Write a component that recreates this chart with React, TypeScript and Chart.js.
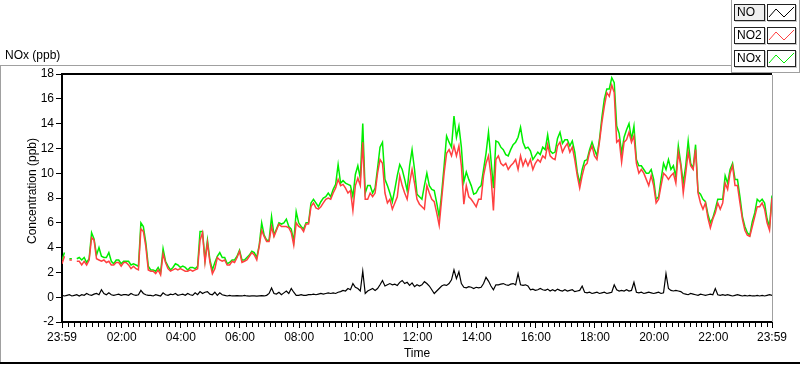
import React, { useEffect, useRef } from "react";
import { Chart, registerables } from "chart.js";
Chart.register(...registerables);

// ---- data (5-minute samples, minutes after 23:59) ----
const STEP_MIN = 5;

const NO = [
  0.15, 0.1, 0.15, 0.2, 0.1, 0.15, 0.2, 0.1, 0.2, 0.15, 0.3, 0.2,
  0.15, 0.25, 0.3, 0.2, 0.6, 0.3, 0.2, 0.35, 0.2, 0.15, 0.2, 0.25,
  0.15, 0.2, 0.2, 0.15, 0.3, 0.2, 0.15, 0.2, 0.55, 0.3, 0.2, 0.15,
  0.15, 0.1, 0.2, 0.15, 0.1, 0.35, 0.2, 0.15, 0.25, 0.2, 0.3, 0.15,
  0.2, 0.25, 0.15, 0.3, 0.2, 0.15, 0.35, 0.2, 0.45, 0.3, 0.4, 0.45,
  0.25, 0.2, 0.4, 0.15, 0.35, 0.2, 0.15, 0.1, 0.15, 0.1, 0.1, 0.12,
  0.1, 0.1, 0.15, 0.1, 0.08, 0.1, 0.1, 0.08, 0.1, 0.12, 0.1, 0.15,
  0.3, 0.75, 0.3, 0.25, 0.4, 0.2, 0.35, 0.5, 0.3, 0.7, 0.4, 0.15,
  0.15, 0.2, 0.15, 0.15, 0.2, 0.2, 0.25, 0.2, 0.25, 0.3, 0.25, 0.3,
  0.35, 0.3, 0.35, 0.3, 0.4, 0.45, 0.55, 0.5, 0.7, 0.6, 1.1, 0.8,
  0.7, 0.5, 2.1, 0.3, 0.5, 0.6, 0.7, 0.55, 0.7, 1.0, 1.35, 0.9,
  1.0, 1.1, 1.0, 1.05, 0.95, 1.2, 1.35, 1.1, 1.2, 0.95, 1.15, 0.85,
  1.0, 0.9, 1.0, 1.25, 1.1, 0.9, 0.6, 0.3, 0.5, 0.7, 0.9, 1.0,
  0.95, 1.1, 1.4, 2.2, 1.5, 2.05, 1.1, 0.8, 0.75, 0.85, 0.8, 0.7,
  0.8, 0.75, 0.8, 1.1, 1.6, 1.3, 0.9, 0.6, 1.0, 1.0, 1.05, 1.1,
  1.0, 0.95, 1.05, 1.1, 1.0, 1.9, 1.0, 0.95, 1.0, 0.9, 0.6, 0.65,
  0.55, 0.6, 0.7, 0.6, 0.55, 0.65, 0.5, 0.6, 0.5, 0.65, 0.55, 0.5,
  0.6, 0.5, 0.55, 0.6, 0.45, 0.5, 0.55, 0.9, 0.4, 0.35, 0.4, 0.3,
  0.35, 0.4, 0.3, 0.35, 0.4, 0.3, 0.35, 0.4, 1.0, 0.6, 0.5, 0.55,
  0.5, 0.6, 0.5, 0.55, 1.2, 0.4, 0.35, 0.4, 0.3, 0.35, 0.4, 0.35,
  0.3, 0.35, 0.4, 0.3, 0.35, 1.9, 0.7, 0.55, 0.5, 0.55, 0.5, 0.45,
  0.3, 0.25, 0.2, 0.3, 0.25, 0.2, 0.15, 0.25, 0.2, 0.15, 0.2, 0.25,
  0.2, 0.7, 0.2, 0.15, 0.2, 0.15, 0.2, 0.15, 0.1, 0.15, 0.2, 0.15,
  0.1, 0.15, 0.1, 0.15, 0.1, 0.1, 0.15, 0.1, 0.15, 0.1, 0.15, 0.2,
  0.15,
];

const NO2 = [
  2.7, 3.3, null, 3.0, 3.0, null, 2.9, 2.9, 2.6, 2.9, 2.6, 3.0,
  4.8, 4.6, 3.1, 3.0, 2.9, 3.0, 2.8, 2.9, 2.6, 2.6, 2.8, 2.8,
  2.5, 2.8, 2.8, 2.6, 2.3, 2.5, 2.3, 2.2, 5.5, 5.3, 4.1, 2.2,
  2.1, 2.1, 1.9, 2.2, 1.8, 3.5, 2.8, 2.3, 2.1, 2.2, 2.3, 2.2,
  2.3, 2.2, 2.1, 2.1, 2.2, 2.1, 2.2, 2.3, 4.6, 5.2, 2.8, 4.4,
  2.8, 1.9, 2.3, 3.2, 3.0, 2.9, 3.0, 2.6, 2.6, 2.9, 2.8, 3.2,
  3.7, 2.8, 2.9, 3.0, 3.3, 3.6, 3.4, 3.0, 4.1, 5.4, 4.9, 4.5,
  4.5, 5.7, 4.9, 5.4, 5.9, 5.7, 5.7, 5.7, 5.6, 5.2, 4.2, 6.0,
  5.7, 5.6, 5.3, 5.9, 5.9, 7.3, 7.6, 7.2, 7.1, 7.3, 7.6, 7.9,
  8.0, 7.9, 8.4, 8.8, 9.5, 9.0, 9.1, 8.8, 8.4, 8.6, 7.0, 9.0,
  9.6, 9.0, 12.5, 7.9, 7.9, 8.4, 8.1, 8.4, 10.0, 11.1, 10.8, 8.4,
  7.6, 7.9, 7.1, 7.6, 8.1, 9.8, 9.0, 8.4, 7.9, 9.2, 10.3, 9.2,
  7.9, 7.5, 7.3, 7.1, 9.0, 8.4, 7.9, 7.7, 6.8, 5.8, 7.9, 10.0,
  11.6, 11.9, 11.4, 12.2, 11.4, 12.2, 10.6, 7.5, 9.0, 8.1, 7.9, 7.6,
  7.3, 7.9, 7.9, 9.8, 10.8, 11.4, 9.8, 7.0, 11.1, 11.4, 10.8, 10.6,
  10.8, 10.3, 10.6, 10.8, 11.1, 10.3, 11.4, 10.6, 11.1, 10.6, 11.1, 10.3,
  10.8, 11.1, 10.9, 11.4, 11.2, 12.3, 11.4, 11.2, 11.1, 12.2, 12.5, 11.7,
  12.1, 12.4, 11.7, 12.1, 11.1, 9.8, 8.8, 9.8, 10.6, 10.8, 11.7, 12.2,
  11.4, 11.1, 12.5, 14.1, 15.4, 16.5, 16.2, 17.1, 16.5, 12.5, 12.7, 10.9,
  12.5, 12.7, 13.3, 12.5, 13.0, 10.8, 10.0, 10.3, 10.0, 9.5, 9.0, 9.8,
  9.0, 7.6, 7.9, 9.0, 10.0, 9.8, 9.5, 9.8, 10.0, 9.2, 11.7, 10.6,
  8.4, 10.0, 11.7, 10.6, 10.3, 11.9, 8.4, 7.6, 7.1, 7.6, 6.4, 5.6,
  6.3, 6.8, 7.6, 7.1, 7.6, 9.2, 8.7, 10.0, 10.6, 9.0, 9.0, 7.6,
  6.3, 5.4, 5.0, 4.9, 5.7, 6.5, 7.3, 7.3, 7.6, 7.1, 6.0, 5.4,
  8.0,
];

const NOX = [
  3.0, 3.6, null, 3.1, 3.1, null, 3.1, 3.2, 3.0, 3.2, 2.8, 3.1,
  5.2, 4.7, 3.4, 4.0, 3.3, 3.2, 3.2, 3.6, 2.9, 2.7, 3.0, 3.0,
  2.7, 2.9, 2.9, 2.9, 2.6, 2.7, 2.6, 2.5, 6.0, 5.7, 4.4, 2.5,
  2.2, 2.2, 2.1, 2.4, 2.0, 3.9, 2.9, 2.5, 2.2, 2.4, 2.7, 2.6,
  2.4, 2.5, 2.4, 2.2, 2.4, 2.4, 2.3, 2.5, 5.3, 5.3, 3.0, 4.6,
  3.0, 2.2, 2.8, 3.3, 3.6, 3.2, 3.2, 2.7, 2.8, 3.0, 3.0, 3.3,
  3.8, 3.0, 3.0, 3.2, 3.4, 3.7, 3.6, 3.2, 4.2, 6.0, 5.0, 4.6,
  4.6, 6.5, 5.0, 5.5, 6.0, 5.9, 6.0, 6.3, 5.7, 5.5, 4.5, 6.9,
  6.0, 5.7, 5.5, 6.0, 6.0, 7.6, 7.9, 7.6, 7.3, 7.7, 8.0, 8.1,
  8.4, 8.1, 8.7, 9.1, 10.7, 9.2, 9.4, 9.2, 9.1, 9.0, 8.1, 9.9,
  10.6, 9.6, 14.0, 8.4, 9.0, 9.0, 8.4, 8.8, 10.4, 12.1, 12.5, 9.5,
  9.0, 8.4, 7.7, 8.7, 9.8, 10.7, 10.3, 9.5, 8.6, 10.6, 11.9, 10.3,
  8.3, 8.1, 7.9, 9.0, 10.0, 9.0, 8.7, 8.6, 7.6, 6.5, 8.4, 10.6,
  13.0, 12.5, 12.1, 14.6, 12.9, 13.8, 12.1, 9.3, 10.1, 9.5, 9.0, 8.3,
  8.4, 8.8, 9.0, 10.3, 11.6, 13.3, 11.1, 8.8, 12.6, 12.5, 12.1, 11.9,
  11.5, 11.4, 11.9, 12.3, 12.5, 12.9, 13.7, 12.5, 12.0, 12.1, 11.8, 11.1,
  11.4, 11.7, 11.5, 12.1, 11.9, 13.1, 11.8, 11.6, 11.7, 12.8, 13.3, 12.4,
  12.7, 12.7, 12.2, 12.6, 11.7, 10.1, 9.2, 10.3, 11.0, 11.1, 11.9, 12.5,
  11.9, 11.4, 12.7, 14.5, 16.0, 16.8, 16.8, 17.7, 17.3, 13.8, 13.2, 11.6,
  12.9, 13.5, 14.0, 12.7, 13.8, 11.1, 10.6, 10.6, 10.3, 10.0, 10.0, 10.3,
  9.5, 7.9, 8.1, 9.5, 10.8, 10.3, 11.1, 10.3, 10.6, 9.7, 12.2, 10.8,
  9.2, 10.6, 12.6, 10.8, 10.4, 12.3, 8.5, 8.3, 7.9, 7.7, 6.7, 6.0,
  6.4, 7.1, 7.9, 7.9, 7.9, 9.8, 9.2, 10.3, 10.8, 9.5, 9.5, 8.1,
  6.5, 5.7, 5.2, 5.0, 6.1, 6.8, 7.9, 7.7, 7.9, 7.6, 6.3, 5.7,
  8.2,
];

const SERIES_NAMES = ["NO", "NO2", "NOx"];
const SERIES_COLORS = ["#000000", "#ff4040", "#00ee00"];

const X_MIN = 0;
const X_MAX = 1440;
const X_TICK_MINUTES = [0, 121, 241, 361, 481, 601, 721, 841, 961, 1081, 1201, 1321, 1440];
const X_TICK_LABELS = ["23:59", "02:00", "04:00", "06:00", "08:00", "10:00", "12:00", "14:00", "16:00", "18:00", "20:00", "22:00", "23:59"];
const MINOR_TICK_MIN = 12;

const Y_MIN = -2;
const Y_MAX = 18;
const Y_STEP = 2;

const TITLE_TEXT = "NOx (ppb)";
const Y_TITLE = "Concentration (ppb)";
const X_TITLE = "Time";

const FONT = "'Liberation Sans', Arial, sans-serif";

function toPoints(arr: (number | null)[]) {
  return arr.map((v, i) => ({ x: i * STEP_MIN, y: v }));
}

const framePlugin = {
  id: "lvFrame",
  afterDraw(chart: any) {
    const { ctx, chartArea: a, scales } = chart;
    ctx.save();
    ctx.strokeStyle = "#000";
    ctx.lineWidth = 2;
    ctx.beginPath();
    ctx.moveTo(a.left - 1, a.top);
    ctx.lineTo(a.right, a.top);
    ctx.stroke();
    ctx.strokeStyle = "#a0a0a0";
    ctx.lineWidth = 1;
    ctx.beginPath();
    ctx.moveTo(Math.round(a.right) + 0.5, a.top + 1);
    ctx.lineTo(Math.round(a.right) + 0.5, a.bottom);
    ctx.stroke();
    // minor ticks on the time axis
    const xs = scales.x;
    ctx.strokeStyle = "#000";
    ctx.beginPath();
    for (let m = 1 + MINOR_TICK_MIN; m < X_MAX; m += MINOR_TICK_MIN) {
      if (X_TICK_MINUTES.some((t) => Math.abs(t - m) < 3)) continue;
      const px = Math.round(xs.getPixelForValue(m)) + 0.5;
      ctx.moveTo(px, a.bottom + 1);
      ctx.lineTo(px, a.bottom + 5);
    }
    ctx.stroke();
    ctx.restore();
  },
};

function LegendIcon({ color }: { color: string }) {
  return (
    <svg width={27} height={15} style={{ display: "block" }}>
      <polyline points="1,12 8,4 16,12 26,2" fill="none" stroke={color} strokeWidth={1} />
    </svg>
  );
}

export default function App() {
  const ref = useRef<HTMLCanvasElement>(null);

  useEffect(() => {
    document.body.style.margin = "0";
    Chart.defaults.font.family = FONT;
    Chart.defaults.font.size = 12;
    Chart.defaults.color = "#000";
    const chart = new Chart(ref.current as HTMLCanvasElement, {
      type: "line",
      data: {
        datasets: [
          { label: SERIES_NAMES[0], data: toPoints(NO), borderColor: SERIES_COLORS[0], borderWidth: 1.2, pointRadius: 0, tension: 0, spanGaps: false },
          { label: SERIES_NAMES[1], data: toPoints(NO2), borderColor: SERIES_COLORS[1], borderWidth: 1.5, pointRadius: 0, tension: 0, spanGaps: false },
          { label: SERIES_NAMES[2], data: toPoints(NOX), borderColor: SERIES_COLORS[2], borderWidth: 1.5, pointRadius: 0, tension: 0, spanGaps: false },
        ],
      },
      options: {
        animation: false,
        responsive: false,
        events: [],
        layout: { padding: { left: 0, top: 74, right: 28, bottom: 0 } },
        plugins: { legend: { display: false }, tooltip: { enabled: false } },
        scales: {
          x: {
            type: "linear",
            min: X_MIN,
            max: X_MAX,
            afterBuildTicks: (s: any) => {
              s.ticks = X_TICK_MINUTES.map((v) => ({ value: v }));
            },
            afterFit: (s: any) => {
              s.height = 43;
            },
            ticks: {
              autoSkip: false,
              maxRotation: 0,
              minRotation: 0,
              padding: 2,
              color: "#000",
              font: { size: 12, family: FONT },
              callback: (v: any) => {
                const i = X_TICK_MINUTES.indexOf(Number(v));
                return i >= 0 ? X_TICK_LABELS[i] : "";
              },
            },
            grid: { drawOnChartArea: false, drawTicks: true, tickLength: 6, color: "#000", lineWidth: 1 },
            border: { display: true, color: "#000", width: 2 },
            title: { display: true, text: X_TITLE, color: "#000", font: { size: 12, family: FONT }, padding: { top: 4, bottom: 4 } },
          },
          y: {
            min: Y_MIN,
            max: Y_MAX,
            afterFit: (s: any) => {
              s.width = 62;
            },
            ticks: { stepSize: Y_STEP, padding: 2, color: "#000", font: { size: 12, family: FONT } },
            grid: { drawOnChartArea: false, drawTicks: true, tickLength: 6, color: "#000", lineWidth: 1 },
            border: { display: true, color: "#000", width: 2 },
          },
        },
      },
      plugins: [framePlugin],
    } as any);
    return () => chart.destroy();
  }, []);

  const legendRows = SERIES_NAMES.map((name, k) => (
    <React.Fragment key={name}>
      <div
        style={{
          position: "absolute",
          left: 734,
          top: 4 + 23 * k,
          width: 27,
          height: 15,
          border: "1px solid #222",
          boxShadow: "1px 1px 0 #c8c8c8",
          background: k === 0 ? "#efefef" : "#fff",
          fontSize: 12,
          lineHeight: "15px",
          paddingLeft: 2,
          boxSizing: "content-box",
          whiteSpace: "nowrap",
          overflow: "hidden",
        }}
      >
        {name}
      </div>
      <div
        style={{
          position: "absolute",
          left: 767,
          top: 4 + 23 * k,
          width: 27,
          height: 15,
          border: "1px solid #222",
          boxShadow: "1px 1px 0 #c8c8c8",
          background: "#fff",
        }}
      >
        <LegendIcon color={SERIES_COLORS[k]} />
      </div>
    </React.Fragment>
  ));

  return (
    <div style={{ position: "relative", width: 800, height: 365, background: "#fff", fontFamily: FONT, overflow: "hidden", color: "#000" }}>
      <canvas ref={ref} width={800} height={365} style={{ position: "absolute", left: 0, top: 0, width: 800, height: 365 }} />
      {/* frame lines */}
      <div style={{ position: "absolute", left: 0, top: 65, width: 731, height: 1, background: "#a0a0a0" }} />
      <div style={{ position: "absolute", left: 0, top: 65, width: 1, height: 298, background: "#a0a0a0" }} />
      <div style={{ position: "absolute", left: 0, top: 362, width: 800, height: 2, background: "#000" }} />
      {/* legend panel */}
      <div style={{ position: "absolute", left: 731, top: 0, width: 1, height: 72, background: "#a0a0a0" }} />
      <div style={{ position: "absolute", left: 799, top: 0, width: 1, height: 72, background: "#a0a0a0" }} />
      <div style={{ position: "absolute", left: 731, top: 72, width: 69, height: 1, background: "#a0a0a0" }} />
      {legendRows}
      {/* titles */}
      <div style={{ position: "absolute", left: 5, top: 48, fontSize: 12, lineHeight: "14px", whiteSpace: "nowrap" }}>{TITLE_TEXT}</div>
      <div
        style={{
          position: "absolute",
          left: 32,
          top: 191,
          fontSize: 12,
          lineHeight: "14px",
          whiteSpace: "nowrap",
          transform: "translate(-50%, -50%) rotate(-90deg)",
        }}
      >
        {Y_TITLE}
      </div>
    </div>
  );
}
